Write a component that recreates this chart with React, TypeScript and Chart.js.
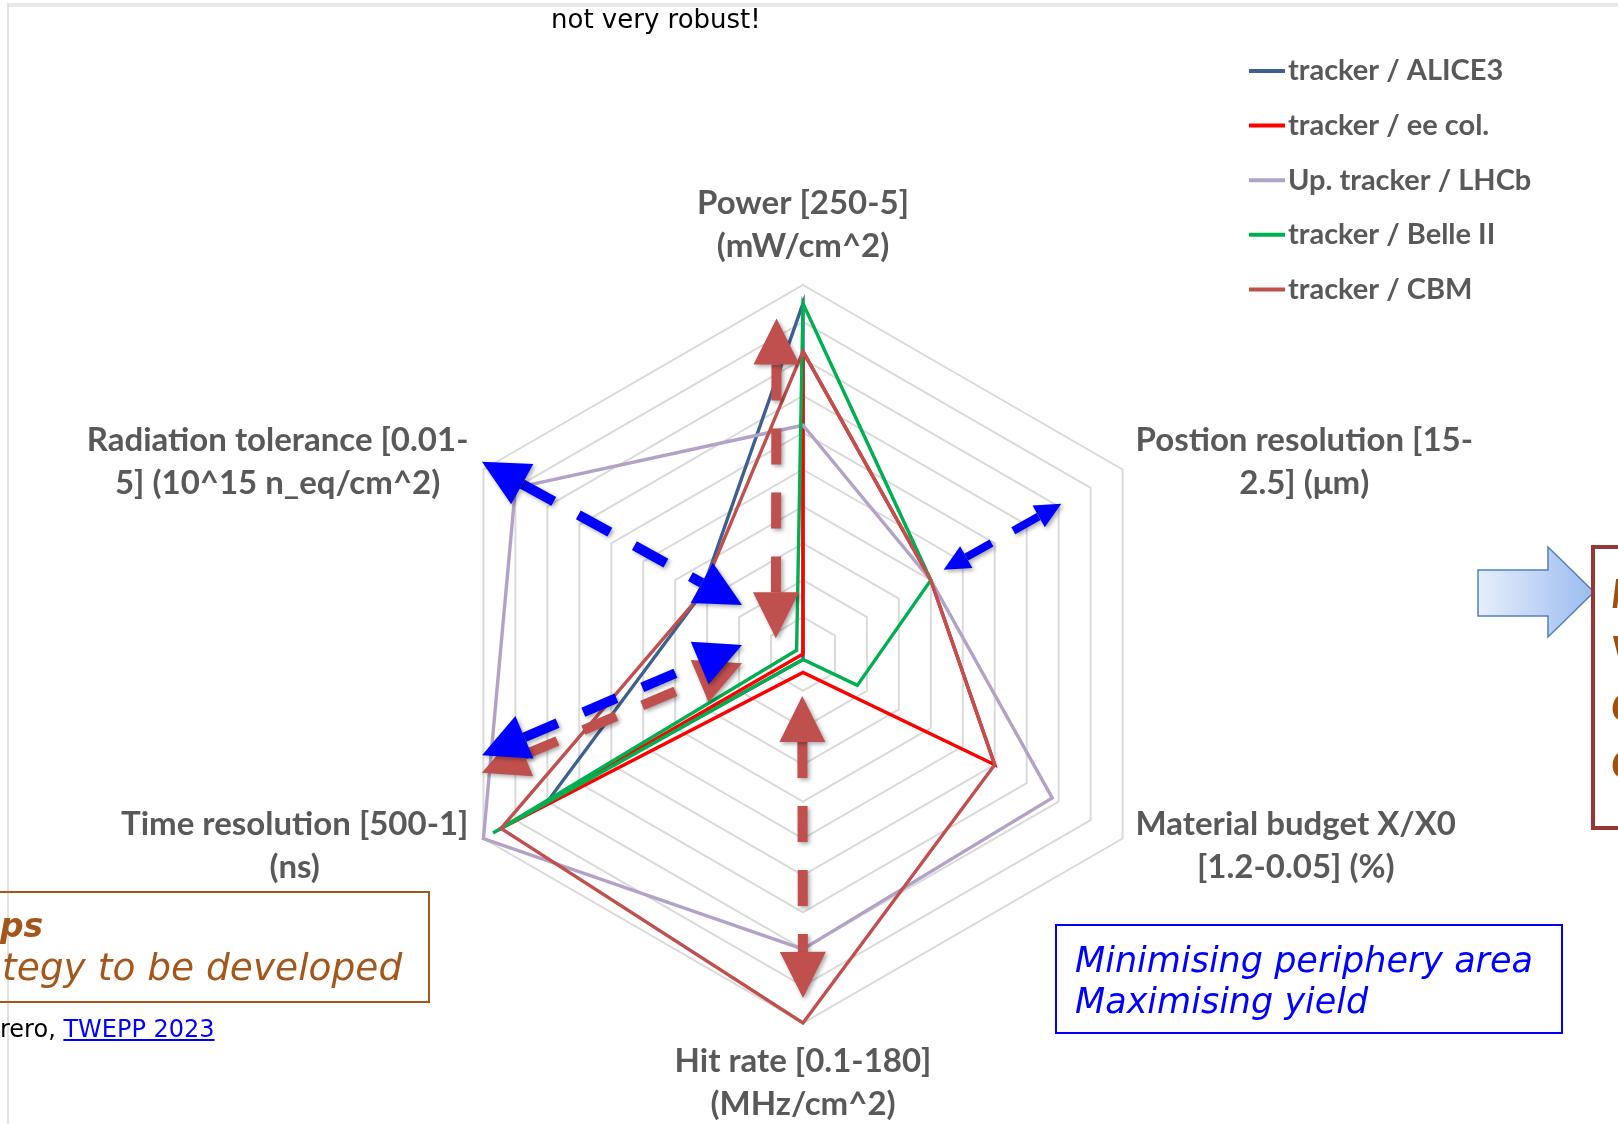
import React, { useEffect, useRef } from "react";
import { Chart, registerables } from "chart.js";

Chart.register(...registerables);

// ---------- data ----------
const axisTitles: string[][] = [
  ["Power [250-5]", "(mW/cm^2)"],
  ["Postion resolution [15-", "2.5] (μm)"],
  ["Material budget X/X0", "[1.2-0.05] (%)"],
  ["Hit rate [0.1-180]", "(MHz/cm^2)"],
  ["Time resolution [500-1]", "(ns)"],
  ["Radiation tolerance [0.01-", "5] (10^15 n_eq/cm^2)"],
];

const seriesNames = [
  "tracker / ALICE3",
  "tracker / ee col.",
  "Up. tracker / LHCb",
  "tracker / Belle II",
  "tracker / CBM",
];

const alice3Values = [9.5, 0, 0, 0.15, 8.0, 3.2];
const eeColValues = [8.2, 4.0, 6.0, 0.5, 9.5, 0];
const lhcbValues = [6.2, 4.0, 7.8, 8.0, 10, 9.0];
const belle2Values = [9.5, 4.0, 1.7, 0.15, 9.7, 0.2];
const cbmValues = [8.2, 4.0, 6.0, 10, 9.45, 3.2];

const scaleMin = 0;
const scaleMax = 10;
const scaleStep = 1;

// ---------- styles ----------
const seriesColors = ["#3D6090", "#FF0000", "#B3A2C7", "#00B050", "#C0504D"];
const labelFont = "bold 33px Lato";
const legendFont = "bold 29px Lato";
const labelColor = "#595959";

// annotation arrows: endpoints in polar form (angle clockwise from top in degrees, value on the radial scale)
const arrowAnnotations = [
  { from: [300.9, 10.14], to: [308.8, 2.12], kind: "blueBig" },
  { from: [249.7, 9.28], to: [261.3, 1.67], kind: "redBig" },
  { from: [252.5, 9.12], to: [278.4, 1.67], kind: "blueBig" },
  { from: [59.1, 4.44], to: [59.8, 8.1], kind: "blueSmall" },
  { from: [355.5, 9.12], to: [300.0, 0.85], kind: "redBig" },
  { from: [181.0, 1.14], to: [180.0, 9.32], kind: "redBig" },
];
const arrowKinds: Record<string, any> = {
  blueBig: { color: "#0000FF", headLen: 46, headWidth: 46, shaft: 10, dash: [36, 28] },
  redBig: { color: "#C0504D", headLen: 46, headWidth: 46, shaft: 10, dash: [36, 28] },
  blueSmall: { color: "#0000FF", headLen: 26, headWidth: 25, shaft: 8, dash: [29, 25] },
};

// label placement per axis: side + vertical offset of the label block from the outer vertex
const labelPlacement = [
  { side: "top", dy: -60 },
  { side: "right", dy: -7.5 },
  { side: "right", dy: 7.3 },
  { side: "bottom", dy: 59.5 },
  { side: "left", dy: 7.3 },
  { side: "left", dy: -7.5 },
];

function drawArrow(ctx: CanvasRenderingContext2D, p1: any, p2: any, st: any) {
  const dx = p2.x - p1.x;
  const dy = p2.y - p1.y;
  const L = Math.hypot(dx, dy);
  const ux = dx / L;
  const uy = dy / L;
  const nx = -uy;
  const ny = ux;
  const b1 = { x: p1.x + ux * st.headLen, y: p1.y + uy * st.headLen };
  const b2 = { x: p2.x - ux * st.headLen, y: p2.y - uy * st.headLen };
  ctx.save();
  ctx.shadowColor = "rgba(0,0,0,0.35)";
  ctx.shadowBlur = 4;
  ctx.shadowOffsetX = 2;
  ctx.shadowOffsetY = 2;
  ctx.strokeStyle = st.color;
  ctx.lineWidth = st.shaft;
  ctx.lineCap = "butt";
  ctx.setLineDash(st.dash);
  ctx.beginPath();
  ctx.moveTo(b1.x, b1.y);
  ctx.lineTo(b2.x, b2.y);
  ctx.stroke();
  ctx.setLineDash([]);
  ctx.fillStyle = st.color;
  const pairs = [
    [p1, b1],
    [p2, b2],
  ];
  for (const [tip, base] of pairs) {
    ctx.beginPath();
    ctx.moveTo(tip.x, tip.y);
    ctx.lineTo(base.x + (nx * st.headWidth) / 2, base.y + (ny * st.headWidth) / 2);
    ctx.lineTo(base.x - (nx * st.headWidth) / 2, base.y - (ny * st.headWidth) / 2);
    ctx.closePath();
    ctx.fill();
  }
  ctx.restore();
}

const overlayPlugin = {
  id: "overlayPlugin",
  afterDatasetsDraw(chart: any) {
    const ctx: CanvasRenderingContext2D = chart.ctx;
    const s = chart.scales.r;
    const unit = s.drawingArea / (scaleMax - scaleMin);
    const pt = (a: number, v: number) => {
      const rad = (a * Math.PI) / 180;
      return { x: s.xCenter + Math.sin(rad) * v * unit, y: s.yCenter - Math.cos(rad) * v * unit };
    };
    for (const ar of arrowAnnotations) {
      drawArrow(ctx, pt(ar.from[0], ar.from[1]), pt(ar.to[0], ar.to[1]), arrowKinds[ar.kind]);
    }
  },
  afterDraw(chart: any) {
    const ctx: CanvasRenderingContext2D = chart.ctx;
    const s = chart.scales.r;
    ctx.save();
    ctx.font = labelFont;
    ctx.fillStyle = labelColor;
    ctx.textAlign = "center";
    ctx.textBaseline = "middle";
    const LH = 43;
    axisTitles.forEach((lines, i) => {
      const v = s.getPointPosition(i, s.drawingArea);
      const maxW = Math.max(...lines.map((t) => ctx.measureText(t).width));
      const pl = labelPlacement[i];
      let cx = v.x;
      if (pl.side === "right") cx = v.x + 13 + maxW / 2;
      if (pl.side === "left") cx = v.x - 15 - maxW / 2;
      const cy = v.y + pl.dy;
      lines.forEach((t, k) => {
        ctx.fillText(t, cx, cy + (k - (lines.length - 1) / 2) * LH);
      });
    });
    // legend
    ctx.font = legendFont;
    const lx = 1249;
    const ly0 = 71;
    const lstep = 54.6;
    chart.data.datasets.forEach((ds: any, i: number) => {
      const y = ly0 + i * lstep;
      ctx.strokeStyle = ds.borderColor;
      ctx.lineWidth = 4;
      ctx.beginPath();
      ctx.moveTo(lx, y);
      ctx.lineTo(lx + 36, y);
      ctx.stroke();
      ctx.fillStyle = labelColor;
      ctx.textAlign = "left";
      ctx.fillText(ds.label, lx + 39, y);
    });
    ctx.restore();
  },
};

export default function App() {
  const ref = useRef<HTMLCanvasElement | null>(null);

  useEffect(() => {
    if (!ref.current) return;
    const seriesValues = [alice3Values, eeColValues, lhcbValues, belle2Values, cbmValues];
    const n = seriesNames.length;
    const chart = new Chart(ref.current, {
      type: "radar",
      data: {
        labels: axisTitles.map((l) => l.join(" ")),
        datasets: seriesNames.map((name, i) => ({
          label: name,
          data: seriesValues[i],
          borderColor: seriesColors[i],
          backgroundColor: seriesColors[i],
          borderWidth: 3.4,
          pointRadius: 0,
          pointHoverRadius: 0,
          fill: false,
          tension: 0,
          order: n - i,
        })),
      },
      options: {
        responsive: false,
        maintainAspectRatio: false,
        animation: false,
        devicePixelRatio: 1,
        layout: { padding: { left: 434, right: 446, top: 285, bottom: 101 } },
        plugins: { legend: { display: false }, tooltip: { enabled: false } },
        scales: {
          r: {
            min: scaleMin,
            max: scaleMax,
            ticks: { display: false, stepSize: scaleStep },
            grid: { color: "#DADADA", lineWidth: 2 },
            angleLines: { display: false },
            pointLabels: { display: false },
          },
        },
      },
      plugins: [overlayPlugin],
    } as any);
    let alive = true;
    if ((document as any).fonts && (document as any).fonts.load) {
      Promise.all([
        (document as any).fonts.load(labelFont),
        (document as any).fonts.load(legendFont),
      ]).then(() => {
        if (alive) chart.draw();
      });
    }
    return () => {
      alive = false;
      chart.destroy();
    };
  }, []);

  const gothic = "'DejaVu Sans', 'Open Sans', sans-serif";
  const brown = "#A5561B";

  return (
    <div
      style={{
        position: "fixed",
        left: 0,
        top: 0,
        width: 1618,
        height: 1124,
        overflow: "hidden",
        background: "#fff",
      }}
    >
      <canvas ref={ref} width={1618} height={1124} style={{ position: "absolute", left: 0, top: 0 }} />
      {/* slide frame */}
      <div style={{ position: "absolute", left: 7, top: 3, width: 1611, height: 4, background: "#E8E8E8" }} />
      <div style={{ position: "absolute", left: 7, top: 3, width: 2, height: 1121, background: "#E2E2E2" }} />

      <div
        style={{
          position: "absolute",
          left: 551,
          top: 2,
          height: 34,
          lineHeight: "34px",
          fontFamily: gothic,
          fontSize: 26,
          color: "#000",
          whiteSpace: "nowrap",
        }}
      >
        not very robust!
      </div>

      {/* bottom-left box */}
      <div
        style={{
          position: "absolute",
          left: -10,
          top: 891,
          width: 436,
          height: 108,
          border: `2px solid ${brown}`,
        }}
      />
      <div
        style={{
          position: "absolute",
          left: 0,
          top: 906,
          height: 40,
          lineHeight: "40px",
          fontFamily: gothic,
          fontSize: 33,
          fontStyle: "italic",
          fontWeight: "bold",
          color: brown,
          whiteSpace: "nowrap",
        }}
      >
        ps
      </div>
      <div
        style={{
          position: "absolute",
          left: 2,
          top: 947,
          height: 40,
          lineHeight: "40px",
          fontFamily: gothic,
          fontSize: 37.5,
          fontStyle: "italic",
          color: brown,
          whiteSpace: "nowrap",
        }}
      >
        tegy to be developed
      </div>
      <div
        style={{
          position: "absolute",
          left: 0,
          top: 1015,
          height: 28,
          lineHeight: "28px",
          fontFamily: gothic,
          fontSize: 24,
          color: "#000",
          whiteSpace: "nowrap",
        }}
      >
        rero, <span style={{ color: "#0000FF", textDecoration: "underline" }}>TWEPP 2023</span>
      </div>

      {/* blue box */}
      <div
        style={{
          position: "absolute",
          left: 1055,
          top: 924,
          width: 504,
          height: 106,
          border: "2px solid #0000FF",
        }}
      />
      <div
        style={{
          position: "absolute",
          left: 1075,
          top: 940,
          lineHeight: "41px",
          fontFamily: gothic,
          fontSize: 35,
          fontStyle: "italic",
          color: "#0000FF",
          whiteSpace: "nowrap",
        }}
      >
        Minimising periphery area
        <br />
        Maximising yield
      </div>

      {/* right block arrow */}
      <svg style={{ position: "absolute", left: 0, top: 0 }} width={1618} height={1124}>
        <defs>
          <linearGradient id="barrow" x1="0" y1="0" x2="1" y2="0">
            <stop offset="0" stopColor="#E6EEFB" />
            <stop offset="1" stopColor="#9CBCF0" />
          </linearGradient>
        </defs>
        <polygon
          points="1478,570 1548,570 1548,547 1594,592 1548,637 1548,616 1478,616"
          fill="url(#barrow)"
          stroke="#4F81BD"
          strokeWidth={1.5}
        />
      </svg>

      {/* right dark red box (clipped) */}
      <div
        style={{
          position: "absolute",
          left: 1591,
          top: 545,
          width: 200,
          height: 277,
          border: "4px solid #953735",
          boxSizing: "content-box",
        }}
      />
      <div
        style={{
          position: "absolute",
          left: 1611,
          top: 565,
          lineHeight: "56.5px",
          fontFamily: "Lato, sans-serif",
          fontSize: 40,
          fontWeight: "bold",
          fontStyle: "italic",
          color: "#A0500E",
          whiteSpace: "nowrap",
        }}
      >
        M
        <br />V
        <br />C
        <br />C
      </div>
    </div>
  );
}
